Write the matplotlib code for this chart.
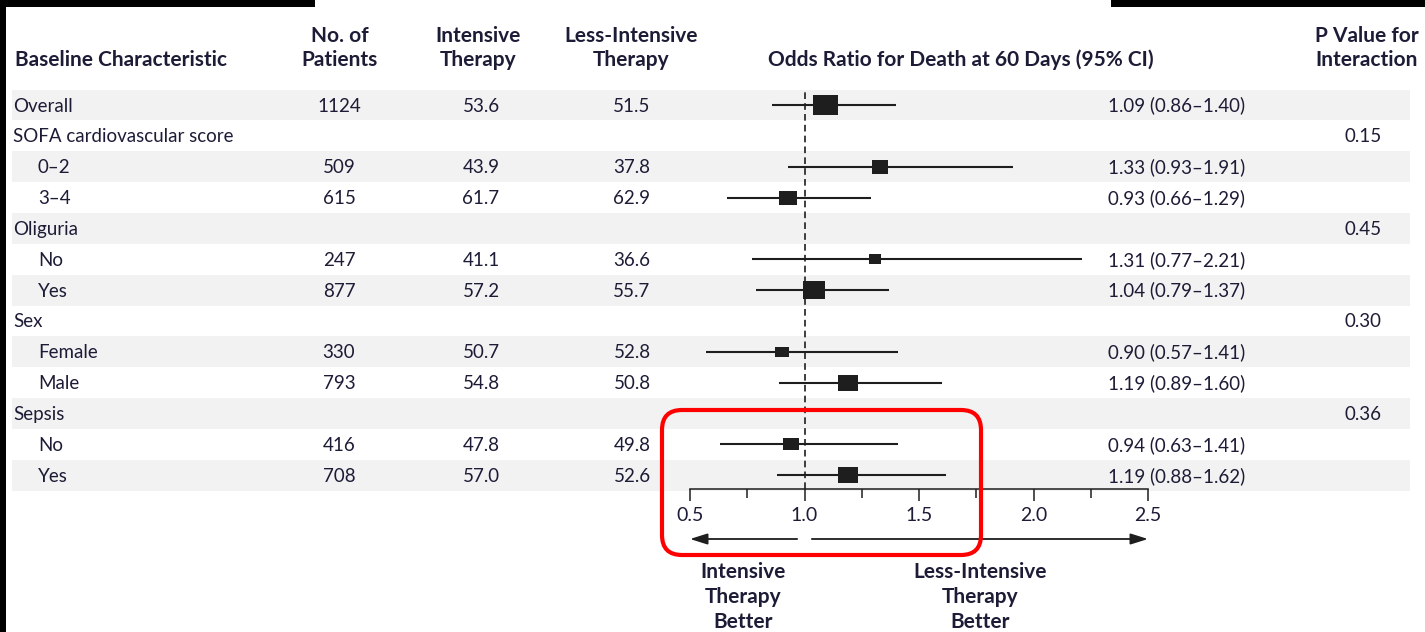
import matplotlib
matplotlib.use('Agg')
import matplotlib.pyplot as plt
import matplotlib.transforms as mtransforms
from matplotlib.patches import Rectangle, FancyBboxPatch
from matplotlib.path import Path

plt.rcParams['font.family'] = ['Lato', 'DejaVu Sans']

# subgroup table
labels = ['Overall', 'SOFA cardiovascular score', '0\u20132', '3\u20134', 'Oliguria', 'No', 'Yes',
          'Sex', 'Female', 'Male', 'Sepsis', 'No', 'Yes']
indent = [0, 0, 1, 1, 0, 1, 1, 0, 1, 1, 0, 1, 1]
n_patients = [1124, None, 509, 615, None, 247, 877, None, 330, 793, None, 416, 708]
intensive = [53.6, None, 43.9, 61.7, None, 41.1, 57.2, None, 50.7, 54.8, None, 47.8, 57.0]
less_intensive = [51.5, None, 37.8, 62.9, None, 36.6, 55.7, None, 52.8, 50.8, None, 49.8, 52.6]
odds = [1.09, None, 1.33, 0.93, None, 1.31, 1.04, None, 0.90, 1.19, None, 0.94, 1.19]
ci_low = [0.86, None, 0.93, 0.66, None, 0.77, 0.79, None, 0.57, 0.89, None, 0.63, 0.88]
ci_high = [1.40, None, 1.91, 1.29, None, 2.21, 1.37, None, 1.41, 1.60, None, 1.41, 1.62]
p_interaction = [None, '0.15', None, None, '0.45', None, None, '0.30', None, None, '0.36', None, None]

xticks = [0.5, 1.0, 1.5, 2.0, 2.5]
xtick_labels = ['0.5', '1.0', '1.5', '2.0', '2.5']
minor_ticks = [0.75, 1.25, 1.75, 2.25]

TXT = '#1c1c36'
INK = '#1e1e1e'
FS = 13.5
HFS = 15

W, H = 1425, 632
fig = plt.figure(figsize=(W / 100, H / 100), dpi=100)
fig.patch.set_facecolor('white')
# pixel coordinates, origin top-left
px = mtransforms.Affine2D().scale(1 / W, -1 / H).translate(0, 1) + fig.transFigure

pitch = 30.85
row0 = 105
ax_top, ax_bot = 90, 489
ax = fig.add_axes([690 / W, (H - ax_bot) / H, 458 / W, (ax_bot - ax_top) / H])
ax.set_xlim(0.5, 2.5)
ax.set_ylim((ax_bot - row0) / pitch, (ax_top - row0) / pitch)
ax.patch.set_alpha(0)
for s in ['top', 'left', 'right']:
    ax.spines[s].set_visible(False)
ax.spines['bottom'].set_linewidth(1.1)
ax.spines['bottom'].set_color(INK)
ax.set_yticks([])
ax.set_xticks(xticks)
ax.set_xticklabels(xtick_labels)
ax.set_xticks(minor_ticks, minor=True)
ax.tick_params(axis='x', which='major', length=8.5, width=1.1, color=INK, pad=4.5,
               labelsize=14, labelcolor=TXT)
ax.tick_params(axis='x', which='minor', length=6.5, width=1.1, color=INK)

row_tf = mtransforms.blended_transform_factory(px, ax.transData)
base_tf = row_tf + mtransforms.ScaledTranslation(0, -6.5 / 100, fig.dpi_scale_trans)

# alternating row shading
for i in range(len(labels)):
    if i % 2 == 0:
        ax.add_patch(Rectangle((12, i - 0.5), 1398, 1, transform=row_tf, facecolor='#f2f2f2',
                               edgecolor='none', clip_on=False, zorder=0))

ax.axvline(1.0, color=INK, lw=1.2, ls=(0, (4, 2.5)), zorder=1)

box = Path([(-0.5, -0.4), (0.5, -0.4), (0.5, 0.4), (-0.5, 0.4), (-0.5, -0.4)],
           [Path.MOVETO, Path.LINETO, Path.LINETO, Path.LINETO, Path.CLOSEPOLY])

for i, lab in enumerate(labels):
    x0 = 38 if indent[i] else 13
    ax.text(x0, i, lab, transform=base_tf, ha='left', va='baseline', fontsize=FS, color=TXT)
    if n_patients[i] is not None:
        ax.text(339, i, str(n_patients[i]), transform=base_tf, ha='center', va='baseline',
                fontsize=FS, color=TXT)
        ax.text(481, i, f'{intensive[i]:.1f}', transform=base_tf, ha='center', va='baseline',
                fontsize=FS, color=TXT)
        ax.text(632, i, f'{less_intensive[i]:.1f}', transform=base_tf, ha='center', va='baseline',
                fontsize=FS, color=TXT)
        ax.text(1245, i, f'{odds[i]:.2f} ({ci_low[i]:.2f}\u2013{ci_high[i]:.2f})', transform=base_tf,
                ha='right', va='baseline', fontsize=FS, color=TXT)
        ax.plot([ci_low[i], ci_high[i]], [i, i], color=INK, lw=1.5, zorder=2, solid_capstyle='butt')
        w = 25 * (n_patients[i] / 1124) ** 0.5
        ax.plot([odds[i]], [i], marker=box, markersize=w * 0.72, color=INK, mec=INK, mew=0,
                zorder=3)
    if p_interaction[i] is not None:
        ax.text(1382, i, p_interaction[i], transform=base_tf, ha='right', va='baseline',
                fontsize=FS, color=TXT)

# column headings
hdr = dict(transform=px, va='baseline', fontsize=HFS, fontweight='bold', color=TXT)
fig.text(15, 66, 'Baseline Characteristic', ha='left', **hdr)
for x, l1, l2 in [(340, 'No. of', 'Patients'), (478, 'Intensive', 'Therapy'),
                  (631, 'Less-Intensive', 'Therapy'), (1367, 'P Value for', 'Interaction')]:
    fig.text(x, 42, l1, ha='center', **hdr)
    fig.text(x, 66, l2, ha='center', **hdr)
fig.text(961, 66, 'Odds Ratio for Death at 60 Days (95% CI)', ha='center', **hdr)

# direction arrows and captions
arr_tf = mtransforms.blended_transform_factory(ax.transData, px)
aprops = dict(arrowstyle='-|>,head_length=0.7,head_width=0.22', color=INK, lw=1.3,
              mutation_scale=15, shrinkA=0, shrinkB=0)
ax.annotate('', xy=(0.5, 539), xytext=(0.968, 539), xycoords=arr_tf, textcoords=arr_tf,
            arrowprops=aprops)
ax.annotate('', xy=(2.5, 539), xytext=(1.032, 539), xycoords=arr_tf, textcoords=arr_tf,
            arrowprops=aprops)
for y, a, b in [(578, 'Intensive', 'Less-Intensive'), (603, 'Therapy', 'Therapy'),
                (628, 'Better', 'Better')]:
    fig.text(743, y, a, ha='center', **hdr)
    fig.text(980, y, b, ha='center', **hdr)

# highlight around the sepsis rows
fig.patches.append(FancyBboxPatch((662, 410), 319, 145, boxstyle='round,pad=0,rounding_size=20',
                                  transform=px, facecolor='none', edgecolor='#ff0000', lw=3,
                                  zorder=5))

# black edge strips
for x, y, w, h in [(0, 0, 315, 7), (1111, 0, 314, 7), (0, 0, 6, 632)]:
    fig.patches.append(Rectangle((x, y), w, h, transform=px, facecolor='black', edgecolor='none',
                                 zorder=6))

fig.savefig('out.png', dpi=100)
